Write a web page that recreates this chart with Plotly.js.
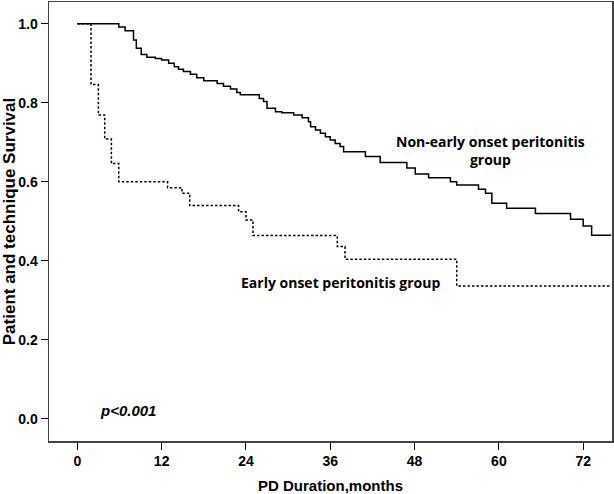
<!DOCTYPE html>
<html>
<head>
<meta charset="utf-8">
<script src="https://cdn.plot.ly/plotly-3.0.1.min.js"></script>
<style>html,body{margin:0;padding:0;background:#fff;}#chart{width:614px;height:494px;}</style>
</head>
<body>
<div id="chart"></div>
<script>
// Non-early onset peritonitis group (solid)
const nonEarlyTime = [0, 5.9, 6.8, 8.0, 8.4, 9.1, 9.9, 11.1, 12.0, 13.0, 13.8, 14.4, 15.1, 16.1, 17.0, 18.0, 19.9, 20.8, 21.8, 22.7, 23.2, 25.9, 26.5, 27.0, 28.2, 29.1, 30.8, 32.0, 32.9, 33.2, 33.9, 34.6, 35.3, 36.0, 36.7, 37.4, 37.9, 41.0, 43.1, 46.9, 48.1, 50.0, 53.1, 54.0, 57.1, 58.1, 59.0, 61.1, 65.2, 70.2, 72.0, 73.2, 76];
const nonEarlySurv = [1.0, 0.992, 0.982, 0.959, 0.938, 0.922, 0.915, 0.912, 0.908, 0.900, 0.891, 0.885, 0.879, 0.872, 0.863, 0.856, 0.849, 0.842, 0.835, 0.826, 0.820, 0.811, 0.803, 0.786, 0.777, 0.775, 0.769, 0.762, 0.752, 0.739, 0.731, 0.723, 0.714, 0.706, 0.697, 0.689, 0.676, 0.664, 0.649, 0.635, 0.620, 0.610, 0.600, 0.592, 0.581, 0.571, 0.546, 0.533, 0.520, 0.505, 0.488, 0.465, 0.465];
// Early onset peritonitis group (dotted)
const earlyTime = [0, 1.95, 3.0, 3.9, 4.85, 5.9, 12.85, 14.9, 16.0, 22.95, 24.0, 25.0, 37.0, 38.1, 54.0, 76];
const earlySurv = [1.0, 0.846, 0.769, 0.708, 0.646, 0.600, 0.585, 0.571, 0.540, 0.524, 0.503, 0.464, 0.436, 0.404, 0.336, 0.336];

const xTicks = [0, 12, 24, 36, 48, 60, 72];
const yTicks = [0.0, 0.2, 0.4, 0.6, 0.8, 1.0];
const yTickText = ['0.0', '0.2', '0.4', '0.6', '0.8', '1.0'];

const labelNonEarly = 'Non-early onset peritonitis<br>group';
const labelEarly = 'Early onset peritonitis group';
const pText = '<i>p&lt;0.001</i>';

const tickFont = {family: '"Liberation Sans Narrow", "Liberation Sans", Arial, sans-serif', size: 14, color: '#000', weight: 'bold'};
const xTitleFont = {family: '"Liberation Sans", Arial, sans-serif', size: 15, color: '#000', weight: 'bold'};
const yTitleFont = {family: '"Liberation Sans", Arial, sans-serif', size: 17, color: '#000', weight: 'bold'};
const labelFont = {family: '"Open Sans", sans-serif', size: 14, color: '#000', weight: 'bold'};

const traces = [
  {x: nonEarlyTime, y: nonEarlySurv, type: 'scatter', mode: 'lines', line: {shape: 'hv', color: '#000', width: 1.5}, hoverinfo: 'skip'},
  {x: earlyTime, y: earlySurv, type: 'scatter', mode: 'lines', line: {shape: 'hv', color: '#000', width: 1.5, dash: '2.5px,2px'}, hoverinfo: 'skip'}
];

const layout = {
  width: 614, height: 494,
  margin: {l: 49, r: 2, t: 2, b: 53},
  paper_bgcolor: '#fff', plot_bgcolor: '#fff',
  showlegend: false,
  xaxis: {
    range: [-4.03, 76.1], tickvals: xTicks, ticktext: xTicks.map(String),
    ticks: 'outside', ticklen: 7, tickwidth: 1, tickcolor: '#000',
    showline: true, linecolor: '#444', linewidth: 1.5, mirror: true,
    showgrid: false, zeroline: false, tickfont: tickFont,
    title: {text: 'PD Duration,months', font: xTitleFont, standoff: 13}
  },
  yaxis: {
    range: [-0.056, 1.055], tickvals: yTicks, ticktext: yTickText,
    ticks: 'outside', ticklen: 7, tickwidth: 1, tickcolor: '#000',
    showline: true, linecolor: '#444', linewidth: 1.5, mirror: true,
    showgrid: false, zeroline: false, tickfont: tickFont,
    title: {text: 'Patient and technique Survival', font: yTitleFont, standoff: 4}
  },
  annotations: [
    {x: 58.8, y: 0.68, xref: 'x', yref: 'y', text: labelNonEarly, showarrow: false, font: labelFont, xanchor: 'center', yanchor: 'middle'},
    {x: 37.4, y: 0.344, xref: 'x', yref: 'y', text: labelEarly, showarrow: false, font: labelFont, xanchor: 'center', yanchor: 'middle'},
    {x: 7.2, y: 0.02, xref: 'x', yref: 'y', text: pText, showarrow: false, font: {family: '"Liberation Sans", Arial, sans-serif', size: 15, color: '#000', weight: 'bold'}, xanchor: 'center', yanchor: 'middle'}
  ]
};

Plotly.newPlot('chart', traces, layout, {displayModeBar: false, staticPlot: true});
</script>
</body>
</html>
